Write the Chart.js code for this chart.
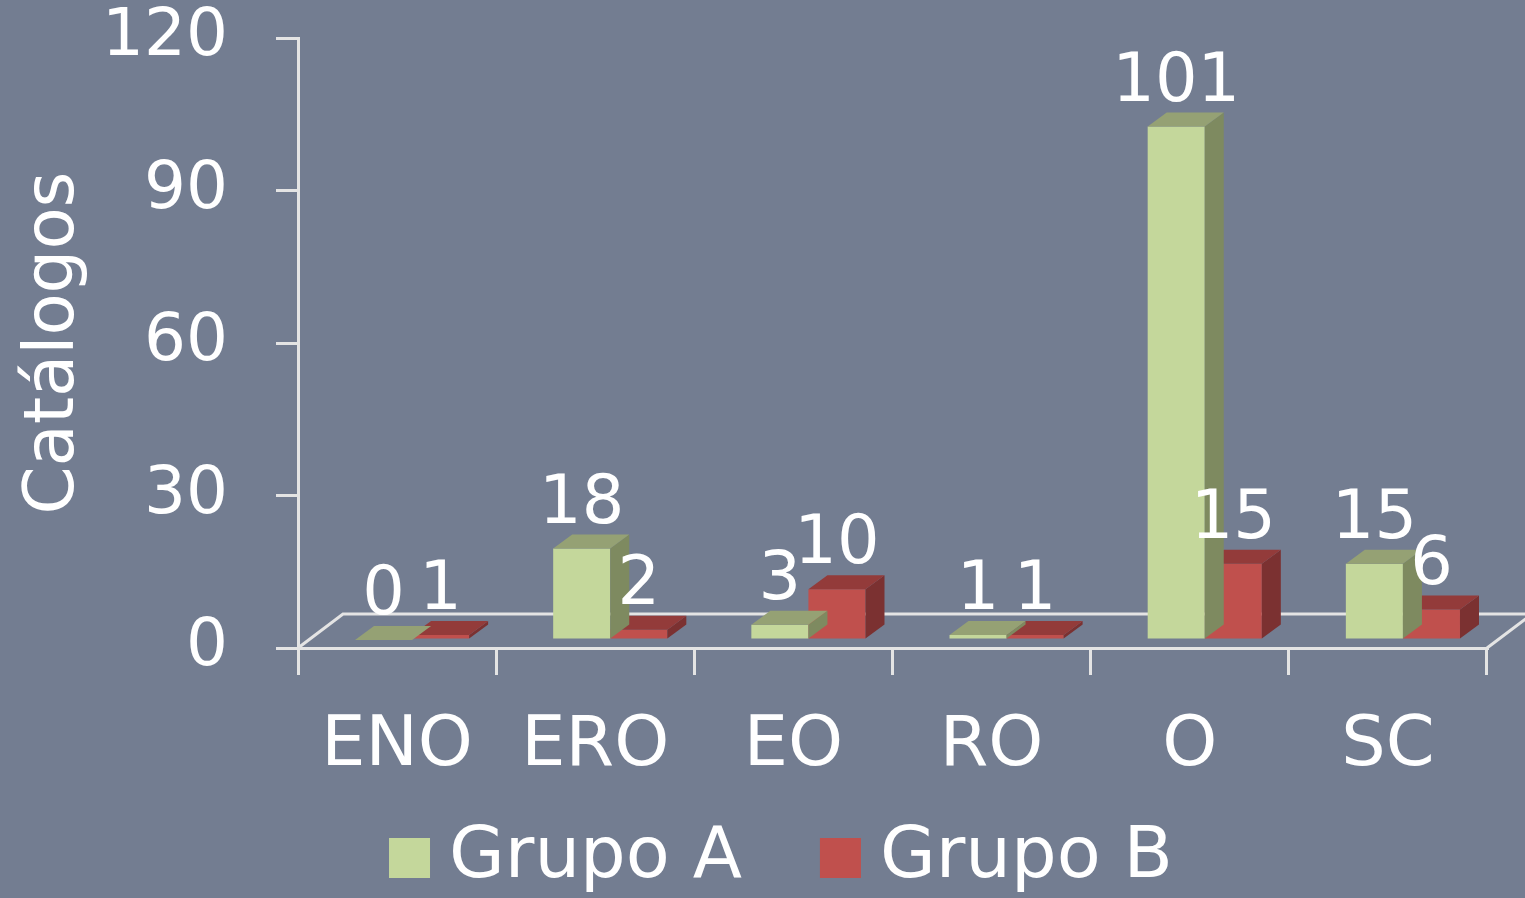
<!DOCTYPE html>
<html>
<head>
<meta charset="utf-8">
<script src="https://cdn.jsdelivr.net/npm/chart.js@4.4.0/dist/chart.umd.min.js"></script>
<style>
  html, body { margin: 0; padding: 0; background: #737D91; }
  #wrap { width: 1525px; height: 898px; }
</style>
</head>
<body>
<div id="wrap"><canvas id="myChart"></canvas></div>
<script>
var categories = ["ENO", "ERO", "EO", "RO", "O", "SC"];
var grupoA = [0, 18, 3, 1, 101, 15];
var grupoB = [1, 2, 10, 1, 15, 6];
var seriesNames = ["Grupo A", "Grupo B"];

var bgColor = "#737D91";
var lineColor = "#E4E4E4";
var font = "'DejaVu Sans', Verdana, sans-serif";

// 3d look: offset of the bars and depth of the faces
var shift = { x: 15, y: -8 };
var depth = { dx: 19, dy: 14 };

var bars3d = {
    id: "bars3d",
    beforeDraw: function (chart) {
        var ctx = chart.ctx;
        ctx.save();
        ctx.fillStyle = bgColor;
        ctx.fillRect(0, 0, chart.width, chart.height);
        ctx.restore();
    },
    beforeDatasetsDraw: function (chart) {
        // the floor
        var ctx = chart.ctx, a = chart.chartArea;
        ctx.save();
        ctx.strokeStyle = lineColor;
        ctx.lineWidth = 3;
        ctx.beginPath();
        ctx.moveTo(a.left, a.bottom);
        ctx.lineTo(a.left + 45, a.bottom - 34);
        ctx.lineTo(a.right + 45, a.bottom - 34);
        ctx.moveTo(a.right, a.bottom);
        ctx.lineTo(a.right + 45, a.bottom - 34);
        ctx.stroke();
        ctx.restore();
    },
    beforeDatasetDraw: function (chart) {
        chart.ctx.save();
        chart.ctx.translate(shift.x, shift.y);
    },
    afterDatasetDraw: function (chart, args) {
        var ctx = chart.ctx;
        var ds = chart.data.datasets[args.index];
        args.meta.data.forEach(function (el) {
            var p = el.getProps(["x", "y", "base", "width"], true);
            var l = p.x - p.width / 2, r = p.x + p.width / 2;
            ctx.fillStyle = ds.sideColor;
            ctx.beginPath();
            ctx.moveTo(r, p.y);
            ctx.lineTo(r + depth.dx, p.y - depth.dy);
            ctx.lineTo(r + depth.dx, p.base - depth.dy);
            ctx.lineTo(r, p.base);
            ctx.closePath();
            ctx.fill();
            ctx.fillStyle = ds.topColor;
            ctx.beginPath();
            ctx.moveTo(l, p.y);
            ctx.lineTo(l + depth.dx, p.y - depth.dy);
            ctx.lineTo(r + depth.dx, p.y - depth.dy);
            ctx.lineTo(r, p.y);
            ctx.closePath();
            ctx.fill();
        });
        ctx.restore();
    },
    afterDatasetsDraw: function (chart) {
        var ctx = chart.ctx;
        ctx.save();
        ctx.fillStyle = "#FFFFFF";
        ctx.font = "67px " + font;
        ctx.textAlign = "center";
        ctx.textBaseline = "alphabetic";
        chart.data.datasets.forEach(function (ds, i) {
            chart.getDatasetMeta(i).data.forEach(function (el, j) {
                ctx.fillText(ds.data[j], el.x + shift.x, el.y + shift.y - depth.dy - 12);
            });
        });
        // legend
        ctx.font = "72px " + font;
        ctx.textAlign = "left";
        ctx.textBaseline = "middle";
        var box = 41, gap = 19, space = 78, total = 0;
        var widths = chart.data.datasets.map(function (ds) { return ctx.measureText(ds.label).width; });
        widths.forEach(function (w, i) { total += box + gap + w + (i > 0 ? space : 0); });
        var x = 781 - total / 2, y = 858;
        chart.data.datasets.forEach(function (ds, i) {
            ctx.fillStyle = ds.backgroundColor;
            ctx.fillRect(x, y - 20, box, 40);
            ctx.fillStyle = "#FFFFFF";
            ctx.fillText(ds.label, x + box + gap, y);
            x += box + gap + widths[i] + space;
        });
        ctx.restore();
    }
};

new Chart("myChart", {
    type: "bar",
    data: {
        labels: categories,
        datasets: [{
            label: seriesNames[0],
            data: grupoA,
            backgroundColor: "#C4D79B",
            sideColor: "#7E8A60",
            topColor: "#95A174",
            clip: false
        }, {
            label: seriesNames[1],
            data: grupoB,
            backgroundColor: "#C0504D",
            sideColor: "#7B3131",
            topColor: "#933B3A",
            clip: false
        }]
    },
    options: {
        responsive: true,
        maintainAspectRatio: false,
        animation: false,
        events: [],
        layout: { padding: { top: 38, right: 38, bottom: 100, left: 0 } },
        datasets: { bar: { categoryPercentage: 0.576, barPercentage: 1 } },
        scales: {
            x: {
                grid: { drawOnChartArea: false, tickLength: 27, color: lineColor, lineWidth: 3 },
                border: { display: true, color: lineColor, width: 3 },
                ticks: { color: "#FFFFFF", font: { family: font, size: 70 }, padding: 30 },
                afterFit: function (s) { s.height = 150; s.paddingLeft = 0; s.paddingRight = 0; }
            },
            y: {
                min: 0,
                max: 120,
                ticks: { stepSize: 30, color: "#FFFFFF", font: { family: font, size: 66 }, padding: 48 },
                grid: { drawOnChartArea: false, tickLength: 22, color: lineColor, lineWidth: 3 },
                border: { display: true, color: lineColor, width: 3 },
                title: {
                    display: true,
                    text: "Catálogos",
                    color: "#FFFFFF",
                    font: { family: font, size: 69 },
                    padding: { top: 14, bottom: 0 }
                },
                afterFit: function (s) { s.width = 298; s.paddingTop = 0; s.paddingBottom = 0; }
            }
        },
        plugins: {
            legend: { display: false },
            tooltip: { enabled: false }
        }
    },
    plugins: [bars3d]
});
</script>
</body>
</html>
